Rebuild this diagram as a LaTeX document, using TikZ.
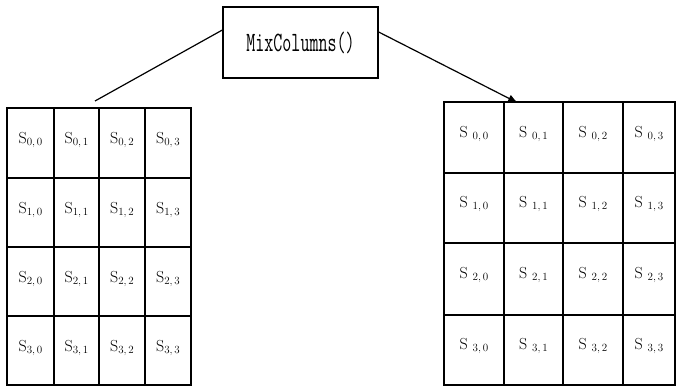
\documentclass[tikz,border=0pt]{standalone}
\usetikzlibrary{arrows.meta}
\begin{document}
\begin{tikzpicture}[x=1pt,y=-1pt,
  gridline/.style={draw=black,line width=1.2pt},
  cell/.style={font=\fontsize{16}{18}\selectfont},
  conn/.style={draw=black,line width=1.2pt}]
\useasboundingbox (0,0) rectangle (676,387);
\fill[white] (0,0) rectangle (676,387);
% MixColumns box
\node[draw=black,line width=1.3pt,minimum width=155pt,minimum height=71pt,inner sep=0pt,
  font=\ttfamily\fontsize{17.5}{20}\selectfont] (mc) at (300.5,42.5) {\scalebox{1}[1.6]{MixColumns()}};
% left grid
\def\lx{{7,54,99,145,191}}
\def\ly{{108,178,247,316,385}}
\foreach \i in {0,...,3}{
  \foreach \j in {0,...,3}{
    \pgfmathsetmacro{\xa}{\lx[\j]}\pgfmathsetmacro{\xb}{\lx[\j+1]}
    \pgfmathsetmacro{\ya}{\ly[\i]}\pgfmathsetmacro{\yb}{\ly[\i+1]}
    \draw[gridline] (\xa,\ya) rectangle (\xb,\yb);
    \node[cell] (L\i\j) at ({(\xa+\xb)/2},{(\ya+\yb)/2-3}) {S\raisebox{-2pt}{\fontsize{11}{13}\selectfont\i,\,\j}};
  }
}
% right grid
\def\rx{{444,504,563,623,675}}
\def\ry{{102,173,243,315,385}}
\foreach \i in {0,...,3}{
  \foreach \j in {0,...,3}{
    \pgfmathsetmacro{\xa}{\rx[\j]}\pgfmathsetmacro{\xb}{\rx[\j+1]}
    \pgfmathsetmacro{\ya}{\ry[\i]}\pgfmathsetmacro{\yb}{\ry[\i+1]}
    \draw[gridline] (\xa,\ya) rectangle (\xb,\yb);
    \node[cell] (R\i\j) at ({(\xa+\xb)/2},{(\ya+\yb)/2-4}) {S\ \raisebox{-2pt}{\fontsize{11}{13}\selectfont\i,\,\j}};
  }
}
\coordinate (lt) at (95,101);
\coordinate (rt) at (518,103);
\draw[conn] (mc.west |- 0,30) -- (lt);
\draw[conn,-{Latex[length=10pt,width=8pt]}] (mc.east |- 0,32) -- (rt);
\end{tikzpicture}
\end{document}
